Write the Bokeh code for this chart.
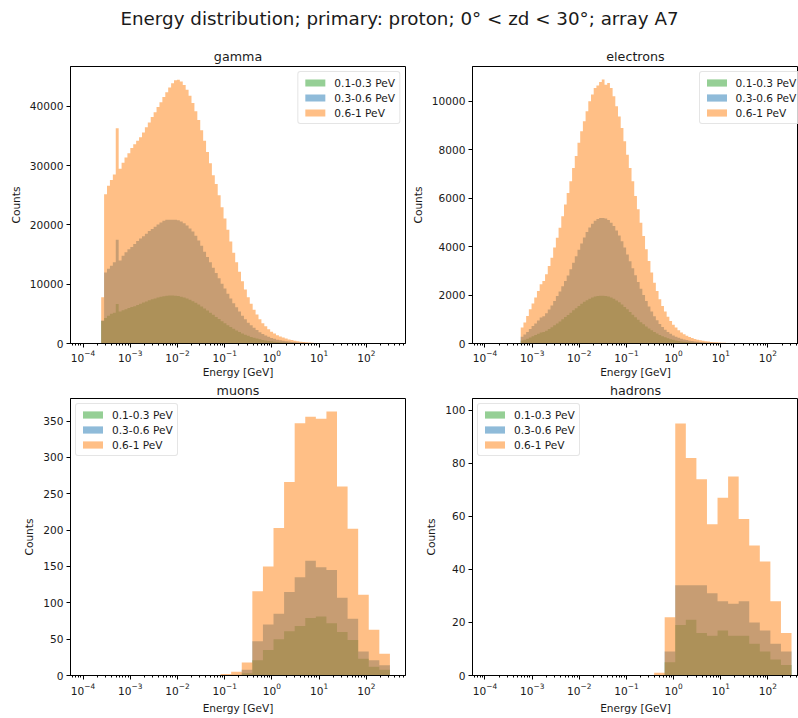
import numpy as np
from bokeh.plotting import figure
from bokeh.models import (Range1d, FixedTicker, Legend, LegendItem, Label,
                          LogTickFormatter, BasicTickFormatter)
from bokeh.layouts import column, row
from bokeh.embed import file_html
from bokeh.resources import INLINE

SUPTITLE = "Energy distribution; primary: proton; 0° < zd < 30°; array A7"
PANEL_TITLES = ["gamma", "electrons", "muons", "hadrons"]
SERIES_LABELS = ["0.1-0.3 PeV", "0.3-0.6 PeV", "0.6-1 PeV"]
SERIES_COLORS = ["#2ca02c", "#1f77b4", "#ff7f0e"]
X_LABEL = "Energy [GeV]"
Y_LABEL = "Counts"

# histogram binning (log10 of GeV)
GAMMA_LOG_START, GAMMA_LOG_STEP, GAMMA_NBINS = -3.615, 0.0617, 100
ELEC_LOG_START, ELEC_LOG_STEP, ELEC_NBINS = -3.242, 0.0573, 100
MH_LOG_START, MH_LOG_STOP, MH_NBINS = -4.0, 2.5, 29

# counts per bin
gamma_green = [
    3800, 4300, 4700, 5000, 5200, 6650, 5400, 5600, 5800, 6000,
    6150, 6300, 6500, 6700, 6900, 7100, 7300, 7450, 7600, 7750,
    7880, 7990, 8050, 8100, 8100, 8050, 8000, 7900, 7750, 7600,
    7400, 7150, 6880, 6580, 6260, 5920, 5560, 5200, 4840, 4480,
    4120, 3760, 3420, 3100, 2780, 2480, 2200, 1940, 1700, 1480,
    1290, 1110, 960, 830, 710, 600, 510, 430, 360, 305,
    255, 215, 180, 150, 125, 103, 85, 70, 57, 46,
    37, 30, 24, 19, 15, 12, 10, 8, 6, 5,
    4, 3, 2, 2, 1, 1, 0, 0, 0, 0,
    0, 0, 0, 0, 0, 0, 0, 0, 0, 0]
gamma_blue = [
    3900, 12000, 12600, 13100, 13700, 17500, 14000, 14800, 15400, 15900,
    16300, 16800, 17300, 17700, 18100, 18500, 19000, 19300, 19700, 20100,
    20400, 20700, 20900, 20900, 20900, 20900, 20800, 20600, 20300, 19900,
    19400, 18900, 18200, 17400, 16500, 15500, 14600, 13700, 12800, 11900,
    11000, 10100, 9300, 8400, 7600, 6800, 6100, 5400, 4700, 4100,
    3500, 3100, 2650, 2280, 1900, 1600, 1350, 1120, 930, 790,
    650, 560, 465, 385, 320, 265, 215, 172, 140, 112,
    88, 70, 56, 44, 35, 28, 22, 18, 14, 11,
    9, 7, 6, 4, 3, 3, 2, 2, 1, 1,
    1, 0, 0, 0, 0, 0, 0, 0, 0, 0]
gamma_orange = [
    7800, 25200, 26600, 27600, 28500, 36300, 29500, 30500, 31400, 32100,
    33000, 33600, 34200, 34800, 35600, 36500, 37300, 38200, 39000, 39900,
    40700, 41600, 42400, 43200, 43900, 44400, 44500, 44200, 43600, 42800,
    41800, 40600, 39200, 37700, 36000, 34200, 32300, 30400, 28400, 26900,
    25000, 23000, 21100, 19200, 17200, 15300, 13700, 12100, 10500, 9100,
    7800, 6700, 5700, 4900, 4100, 3400, 2900, 2400, 2000, 1700,
    1400, 1200, 1000, 830, 690, 570, 460, 370, 300, 240,
    190, 150, 120, 95, 75, 60, 48, 38, 30, 24,
    19, 15, 12, 9, 7, 6, 5, 4, 3, 3,
    2, 2, 1, 1, 1, 1, 0, 0, 0, 0]

electron_green = [
    120, 155, 200, 250, 300, 350, 400, 450, 480, 530,
    600, 670, 750, 830, 910, 1000, 1090, 1180, 1270, 1370,
    1460, 1550, 1640, 1720, 1790, 1850, 1900, 1940, 1960, 1975,
    1975, 1965, 1940, 1900, 1850, 1780, 1700, 1610, 1510, 1410,
    1300, 1190, 1080, 980, 880, 790, 700, 620, 545, 475,
    410, 350, 300, 255, 215, 180, 150, 125, 104, 86,
    72, 60, 50, 42, 35, 29, 24, 20, 16, 13,
    11, 9, 7, 6, 5, 4, 3, 3, 2, 2,
    1, 1, 1, 0, 0, 0, 0, 0, 0, 0,
    0, 0, 0, 0, 0, 0, 0, 0, 0, 0]
electron_blue = [
    280, 370, 480, 600, 720, 830, 950, 1070, 1130, 1250,
    1400, 1570, 1760, 1960, 2150, 2360, 2580, 2810, 3070, 3330,
    3600, 3870, 4130, 4380, 4600, 4790, 4950, 5070, 5140, 5180,
    5180, 5160, 5100, 4990, 4850, 4670, 4460, 4220, 3960, 3680,
    3400, 3110, 2820, 2540, 2260, 2000, 1760, 1530, 1320, 1130,
    960, 810, 680, 570, 480, 400, 335, 280, 235, 195,
    165, 140, 118, 100, 85, 72, 61, 52, 44, 37,
    31, 26, 22, 18, 15, 12, 10, 8, 7, 6,
    5, 4, 3, 3, 2, 2, 1, 1, 1, 0,
    0, 0, 0, 0, 0, 0, 0, 0, 0, 0]
electron_orange = [
    660, 870, 1140, 1415, 1650, 1900, 2170, 2450, 2580, 2860,
    3200, 3540, 3960, 4370, 4780, 5260, 5740, 6220, 6700, 7250,
    7740, 8290, 8770, 9180, 9590, 10000, 10280, 10550, 10660, 10800,
    10900, 10690, 10760, 10550, 10210, 9800, 9380, 8900, 8350, 7800,
    7250, 6700, 6090, 5540, 4990, 4440, 3890, 3410, 2930, 2510,
    2170, 1830, 1550, 1320, 1100, 930, 770, 660, 550, 450,
    385, 316, 265, 225, 190, 160, 135, 113, 95, 80,
    67, 56, 47, 39, 33, 27, 23, 19, 16, 13,
    11, 9, 7, 6, 5, 4, 3, 3, 2, 2,
    1, 1, 1, 0, 0, 0, 0, 0, 0, 0]

muon_green = [0] * 13 + [0, 0, 3, 21, 35, 50, 61, 68, 79, 81, 72, 60, 49, 23, 12, 8]
muon_blue = [0] * 13 + [0, 1, 8, 47, 70, 85, 115, 135, 158, 149, 145, 107, 78, 33, 21, 14]
muon_orange = [0] * 13 + [2, 5, 18, 116, 150, 203, 266, 347, 356, 353, 363, 260, 202, 111, 63, 30]

hadron_green = [0] * 16 + [0, 5, 19, 21, 16, 15, 17, 15, 15, 12, 9, 6, 4]
hadron_blue = [0] * 16 + [0, 9, 34, 34, 34, 31, 28, 27, 28, 20, 17, 12, 9]
hadron_orange = [0] * 16 + [1, 22, 95, 82, 74, 57, 67, 75, 59, 49, 43, 28, 16]

# axes
GAMMA_Y_TICKS = [0, 10000, 20000, 30000, 40000]
ELEC_Y_TICKS = [0, 2000, 4000, 6000, 8000, 10000]
MUON_Y_TICKS = [0, 50, 100, 150, 200, 250, 300, 350]
HADRON_Y_TICKS = [0, 20, 40, 60, 80, 100]
Y_TOPS = [46740, 11440, 381, 104.4]
X_LOG_LO, X_LOG_HI_LEFT, X_LOG_HI_RIGHT = -4.265, 2.83, 2.648
X_MAJOR_EXPONENTS = list(range(-4, 3))

FONT = "DejaVu Sans"
TXT = "#1a1a1a"
FRAME_H = 277
FULL_FRAME_W = 335


def log_edges(start, step, n):
    return [10.0 ** (start + step * i) for i in range(n + 1)]


gamma_edges = log_edges(GAMMA_LOG_START, GAMMA_LOG_STEP, GAMMA_NBINS)
elec_edges = log_edges(ELEC_LOG_START, ELEC_LOG_STEP, ELEC_NBINS)
mh_edges = list(np.logspace(MH_LOG_START, MH_LOG_STOP, MH_NBINS + 1))

x_major = [10.0 ** k for k in X_MAJOR_EXPONENTS]
x_minor = [m * 10.0 ** k for k in range(-5, 3) for m in range(2, 10)]


def make_panel(title, edges, series, y_top, y_ticks, x_hi, frame_w,
               b_left, b_right, b_top, b_bottom, legend_loc, title_standoff,
               xlabel_standoff, xtick_standoff):
    p = figure(frame_width=frame_w, frame_height=FRAME_H, x_axis_type="log",
               x_range=Range1d(10 ** X_LOG_LO, 10 ** x_hi),
               y_range=Range1d(0, y_top),
               output_backend="svg", toolbar_location=None,
               min_border_left=b_left, min_border_right=b_right,
               min_border_top=b_top, min_border_bottom=b_bottom)
    p.grid.visible = False
    p.outline_line_color = "black"
    p.outline_line_width = 1
    p.background_fill_color = "white"
    p.border_fill_color = "white"

    p.title.text = title
    p.title.align = "center"
    p.title.offset = (FULL_FRAME_W - frame_w) / 2
    p.title.text_font = FONT
    p.title.text_font_size = "12.7px"
    p.title.text_font_style = "normal"
    p.title.text_color = TXT
    p.title.standoff = title_standoff

    items = []
    for lab, col, vals in zip(SERIES_LABELS, SERIES_COLORS, series):
        r = p.varea_step(x=edges, y1=[0] * len(edges), y2=list(vals) + [0],
                         step_mode="after", fill_color=col, fill_alpha=0.5)
        items.append(LegendItem(label=lab, renderers=[r]))

    leg = Legend(items=items, location=legend_loc, margin=5, padding=4,
                 spacing=2, label_height=13, glyph_height=9, glyph_width=25,
                 label_standoff=7, label_text_font=FONT,
                 label_text_font_size="10.6px", label_text_color=TXT,
                 border_line_color="#cccccc", border_line_width=1,
                 background_fill_alpha=0.8, border_radius=3)
    p.add_layout(leg)

    xa = p.xaxis[0]
    xa.ticker = FixedTicker(ticks=x_major, minor_ticks=x_minor)
    xa.formatter = LogTickFormatter()
    xa.axis_label = X_LABEL
    ya = p.yaxis[0]
    ya.ticker = FixedTicker(ticks=y_ticks, minor_ticks=[])
    ya.formatter = BasicTickFormatter(use_scientific=False)
    ya.axis_label = Y_LABEL
    for ax in (xa, ya):
        ax.axis_line_color = "black"
        ax.major_tick_line_color = "black"
        ax.minor_tick_line_color = "black"
        ax.major_tick_out = 4
        ax.major_tick_in = 0
        ax.minor_tick_out = 2
        ax.minor_tick_in = 0
        ax.major_label_standoff = 3
        ax.axis_label_standoff = 5
        ax.major_label_text_font = FONT
        ax.major_label_text_font_size = "10.6px"
        ax.major_label_text_color = TXT
        ax.axis_label_text_font = FONT
        ax.axis_label_text_font_size = "10.6px"
        ax.axis_label_text_font_style = "normal"
        ax.axis_label_text_color = TXT
    xa.axis_label_standoff = xlabel_standoff
    xa.major_label_standoff = xtick_standoff
    return p


p_gamma = make_panel(PANEL_TITLES[0], gamma_edges,
                     [gamma_green, gamma_blue, gamma_orange],
                     Y_TOPS[0], GAMMA_Y_TICKS, X_LOG_HI_LEFT, 335,
                     70, 3, 22, 0, "top_right", 5, 1, 2)
p_elec = make_panel(PANEL_TITLES[1], elec_edges,
                    [electron_green, electron_blue, electron_orange],
                    Y_TOPS[1], ELEC_Y_TICKS, X_LOG_HI_RIGHT, 326,
                    64, 0, 22, 0, (226.6, 219), 5, 1, 2)
p_muon = make_panel(PANEL_TITLES[2], mh_edges,
                    [muon_green, muon_blue, muon_orange],
                    Y_TOPS[2], MUON_Y_TICKS, X_LOG_HI_LEFT, 335,
                    70, 3, 0, 0, "top_left", 1, 4, 3)
p_had = make_panel(PANEL_TITLES[3], mh_edges,
                   [hadron_green, hadron_blue, hadron_orange],
                   Y_TOPS[3], HADRON_Y_TICKS, X_LOG_HI_RIGHT, 326,
                   64, 0, 0, 0, "top_left", 1, 4, 3)

head = figure(width=798, height=44, output_backend="svg", toolbar_location=None,
              x_axis_location=None, y_axis_location=None, min_border=0,
              x_range=Range1d(0, 1), y_range=Range1d(0, 1))
head.grid.visible = False
head.outline_line_color = None
head.add_layout(Label(x=399, y=26, x_units="screen", y_units="screen",
                      text=SUPTITLE, text_align="center", text_baseline="middle",
                      text_font=FONT, text_font_size="18.3px", text_color=TXT))

layout = column(head, row(p_gamma, p_elec), row(p_muon, p_had))

with open("out.html", "w") as f:
    f.write(file_html(layout, INLINE))
